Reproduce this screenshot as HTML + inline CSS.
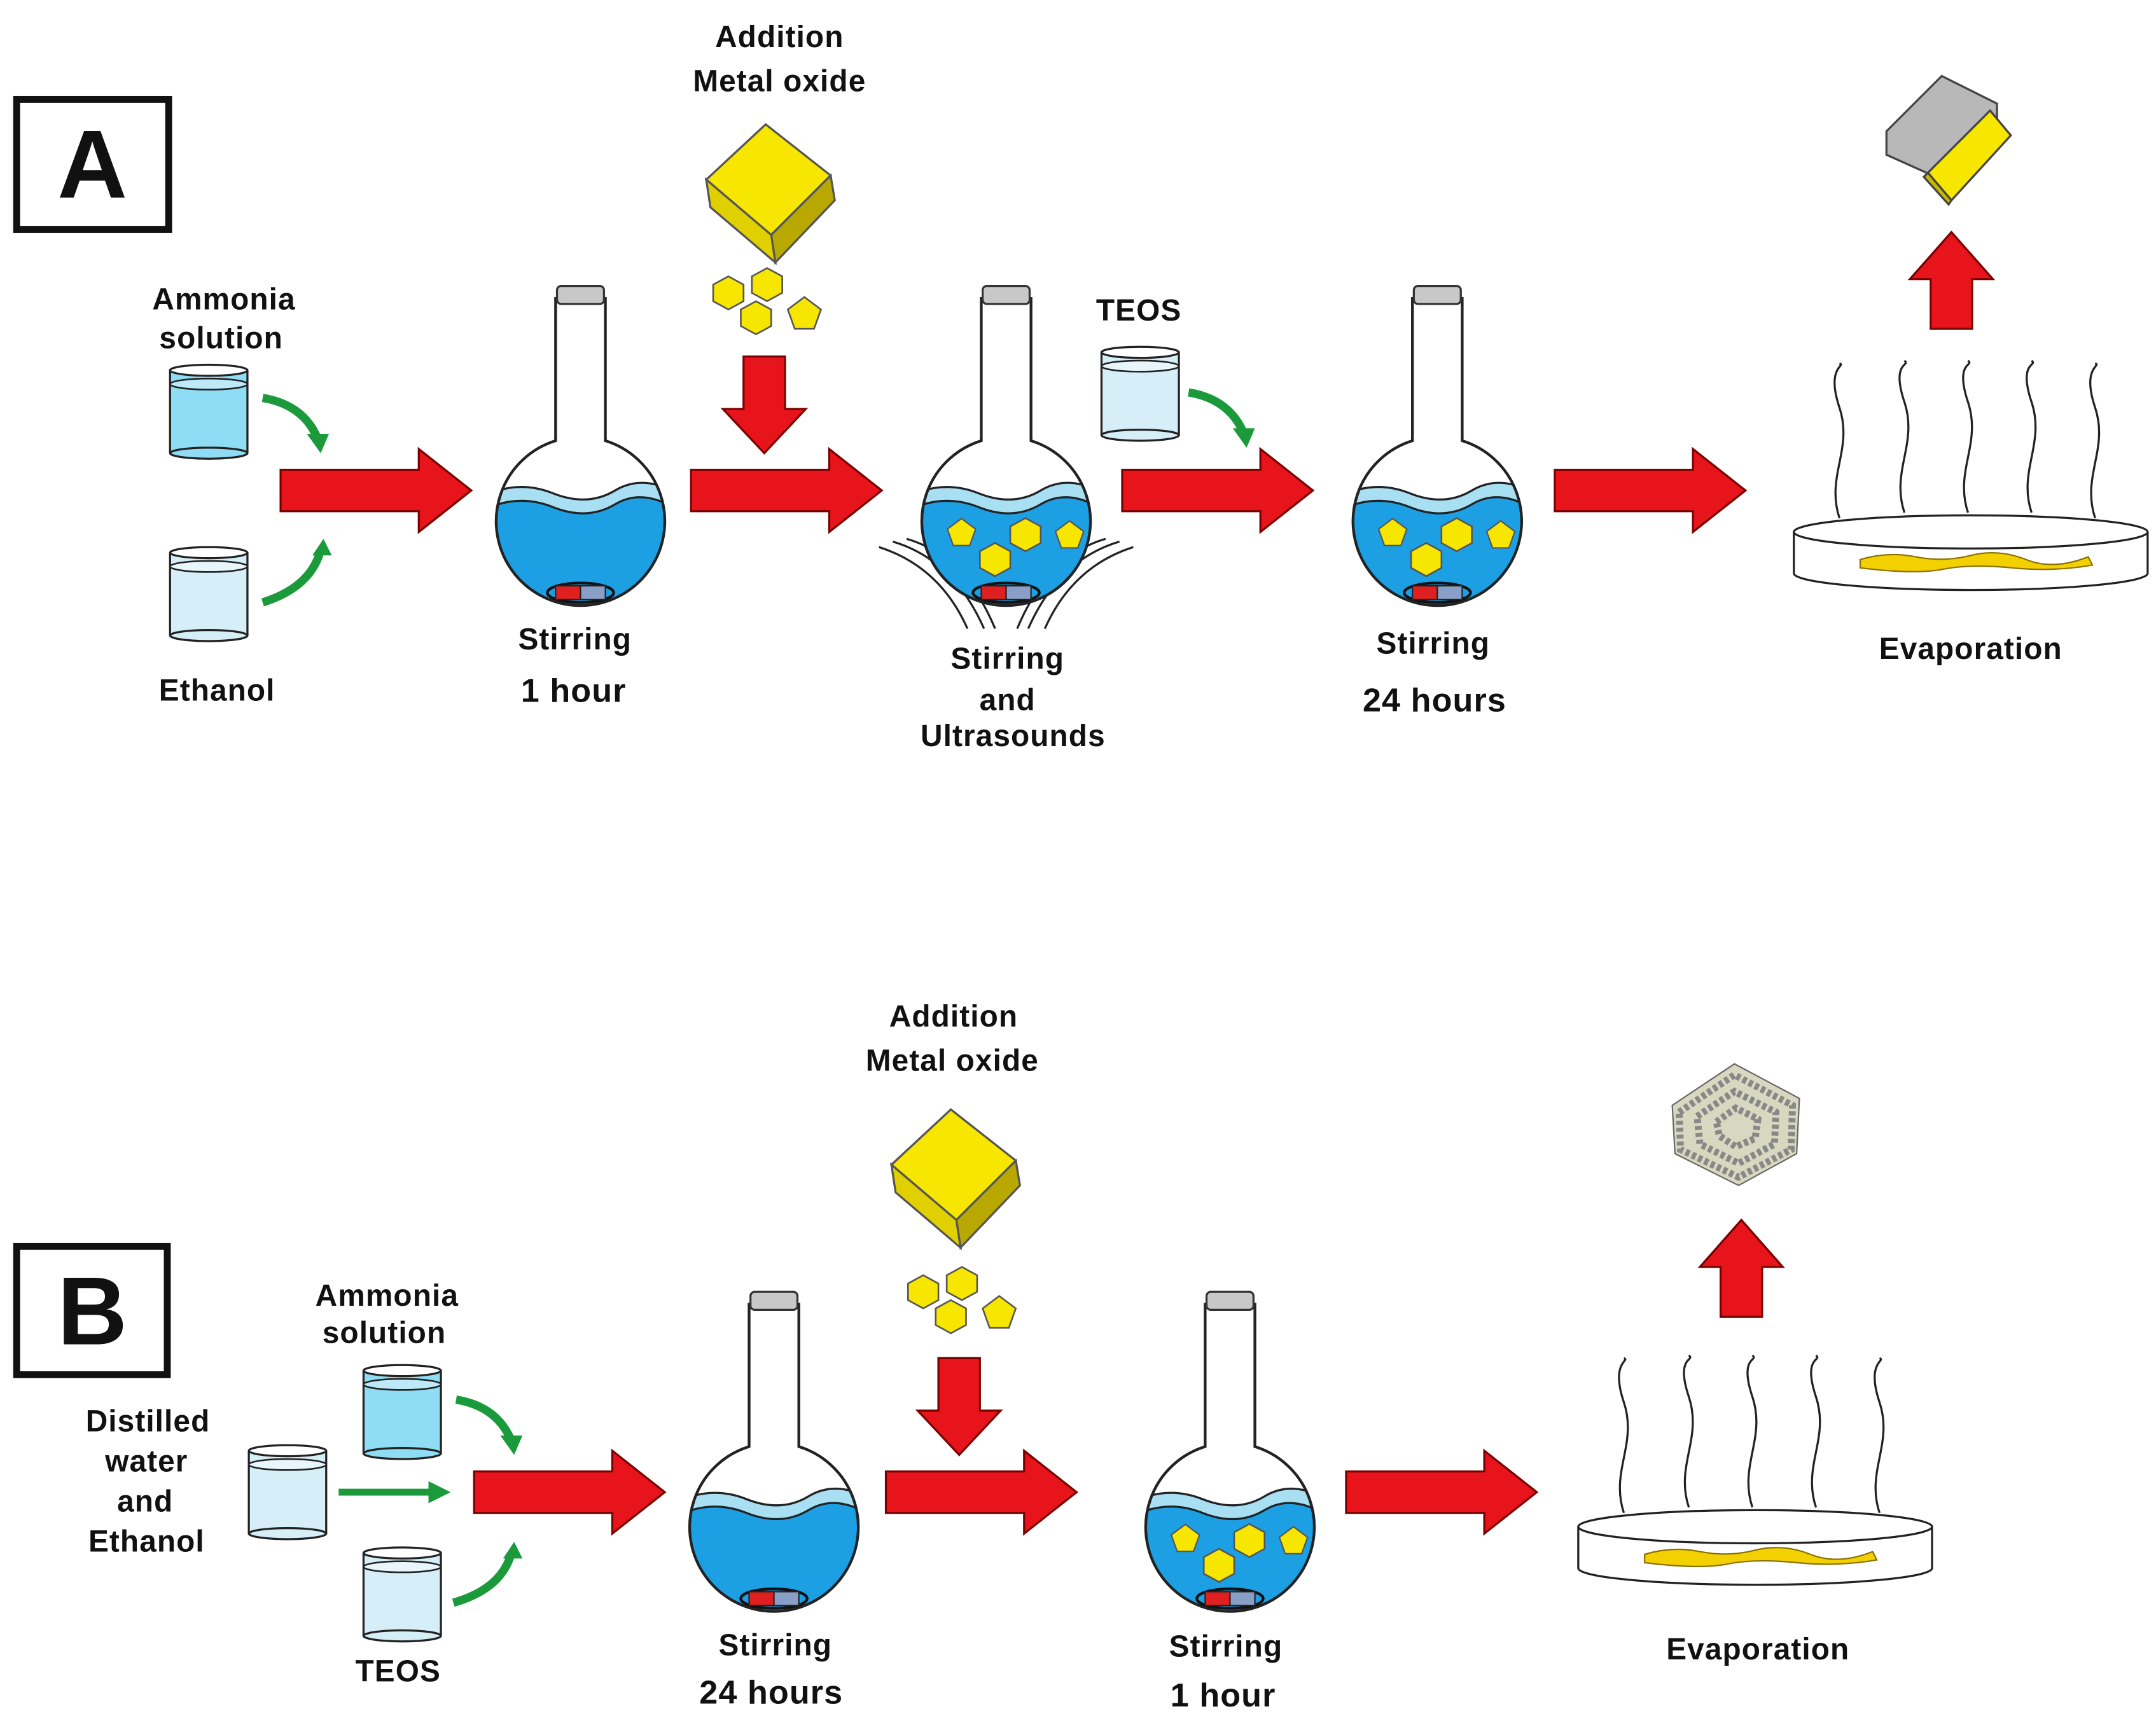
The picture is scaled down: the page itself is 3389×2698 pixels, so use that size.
<!DOCTYPE html>
<html><head><meta charset="utf-8"><style>
html,body{margin:0;padding:0;background:#fff;}
svg{display:block;}
text{font-family:"Liberation Sans",sans-serif;font-weight:bold;fill:#111;text-anchor:middle;letter-spacing:0.5px;}
</style></head><body>
<svg width="3389" height="2698" viewBox="0 0 1560 1242" xmlns="http://www.w3.org/2000/svg">
<defs>
  <clipPath id="bulb"><circle cx="0" cy="0" r="61"/></clipPath>
  <g id="flaskbase">
    <g clip-path="url(#bulb)">
      <path d="M-70 -18 Q-45 -30 -20 -20 T25 -22 T70 -20 V80 H-70Z" fill="#a8dff3"/>
      <path d="M-70 -8 Q-45 -20 -20 -10 T25 -12 T70 -8 V80 H-70Z" fill="#1c9fe3"/>
      <path d="M-70 -18 Q-45 -30 -20 -20 T25 -22 T70 -20" fill="none" stroke="#222" stroke-width="1.5"/>
      <path d="M-70 -8 Q-45 -20 -20 -10 T25 -12 T70 -8" fill="none" stroke="#222" stroke-width="1.5"/>
    </g>
    <path d="M-18 -162 L-18 -58 A61 61 0 1 0 18 -58 L18 -162" fill="none" stroke="#222" stroke-width="2"/>
    <rect x="-17" y="-170" width="34" height="13" rx="3" fill="#c8c8c8" stroke="#333" stroke-width="1.5"/>
    <ellipse cx="0" cy="52" rx="24" ry="7" fill="none" stroke="#111" stroke-width="2"/>
    <rect x="-18" y="47" width="18" height="10" fill="#e02020" stroke="#222"/>
    <rect x="0" y="47" width="18" height="10" fill="#8a9fc8" stroke="#222"/>
  </g>
  <polygon id="hex" points="-11,-6 0,-12 11,-6 11,6 0,12 -11,6" fill="#f7e600" stroke="#555" stroke-width="1.2"/>
  <polygon id="pent" points="0,-12 12,-3 7,11 -7,11 -12,-3" fill="#f7e600" stroke="#555" stroke-width="1.2"/>
  <g id="flaskP">
    <use href="#flaskbase"/>
    <use href="#pent" x="-38" y="10" transform="scale(.85)"/>
    <use href="#hex" x="14" y="10"/>
    <use href="#hex" x="-8" y="28"/>
    <use href="#pent" x="54" y="12" transform="scale(.85)"/>
  </g>
  <g id="cube">
    <polygon points="-45,-5 -2,-45 45,-8 2,35" fill="#f7e600" stroke="#555" stroke-width="1.5"/>
    <polygon points="2,35 45,-8 48,10 5,55" fill="#b8a800" stroke="#555" stroke-width="1.5"/>
    <polygon points="-45,-5 2,35 5,55 -42,15" fill="#e0d000" stroke="#555" stroke-width="1.5"/>
  </g>
  <g id="hexgroup">
    <use href="#hex" x="-28" y="-10"/>
    <use href="#hex" x="0" y="-16"/>
    <use href="#hex" x="-8" y="8"/>
    <use href="#pent" x="27" y="5"/>
  </g>
  <g id="rarrow"><polygon points="0,-15 100,-15 100,-30 138,0 100,30 100,15 0,15" fill="#e8141c" stroke="#7a0000" stroke-width="1.5"/></g>
  <g id="darrow"><polygon points="-15,0 15,0 15,38 30,38 0,70 -30,38 -15,38" fill="#e8141c" stroke="#7a0000" stroke-width="1.5"/></g>
  <g id="uarrow"><polygon points="-15,70 15,70 15,34 30,34 0,0 -30,34 -15,34" fill="#e8141c" stroke="#7a0000" stroke-width="1.5"/></g>
  <g id="beakerB">
    <rect x="0" y="0" width="56" height="60" fill="#8fdcf5"/>
    <path d="M0 0 V60 M56 0 V60" stroke="#222" stroke-width="1.5"/>
    <ellipse cx="28" cy="60" rx="28" ry="4" fill="#8fdcf5" stroke="#222" stroke-width="1.5"/>
    <ellipse cx="28" cy="0" rx="28" ry="4" fill="#fff" stroke="#222" stroke-width="1.5"/>
    <ellipse cx="28" cy="10" rx="28" ry="4" fill="#bde9f8" stroke="#222" stroke-width="1.2"/>
  </g>
  <g id="beakerP">
    <rect x="0" y="0" width="56" height="60" fill="#d6eef8"/>
    <path d="M0 0 V60 M56 0 V60" stroke="#222" stroke-width="1.5"/>
    <ellipse cx="28" cy="60" rx="28" ry="4" fill="#d6eef8" stroke="#222" stroke-width="1.5"/>
    <ellipse cx="28" cy="0" rx="28" ry="4" fill="#fff" stroke="#222" stroke-width="1.5"/>
    <ellipse cx="28" cy="10" rx="28" ry="4" fill="#e8f6fb" stroke="#222" stroke-width="1.2"/>
  </g>
  <g id="dish">
    <path d="M-128 0 V30 A128 12 0 0 0 128 30 V0" fill="#fff" stroke="#222" stroke-width="1.5"/>
    <ellipse cx="0" cy="0" rx="128" ry="12" fill="#fff" stroke="#222" stroke-width="1.5"/>
    <path d="M-80 20 Q-60 14 -40 18 T0 17 T40 20 T85 18 L88 24 Q60 29 30 26 T-20 27 T-80 26Z" fill="#f3d000" stroke="#8a7000" stroke-width="1"/>
    <g fill="none" stroke="#222" stroke-width="1.5">
      <path d="M-95 -10 C-105 -40 -85 -60 -95 -90 S-90 -120 -95 -122"/>
      <path d="M-48 -14 C-58 -44 -38 -64 -48 -94 S-43 -120 -48 -124"/>
      <path d="M-2 -14 C-12 -44 8 -64 -2 -94 S3 -120 -2 -124"/>
      <path d="M44 -14 C34 -44 54 -64 44 -94 S49 -120 44 -124"/>
      <path d="M90 -10 C80 -40 100 -60 90 -90 S95 -120 90 -122"/>
    </g>
  </g>
  <g id="garrow"><path d="M0 0 Q30 5 40 30" fill="none" stroke="#1a9a3a" stroke-width="6"/><polygon points="32,26 48,26 42,40" fill="#1a9a3a"/></g>
</defs>

<!-- Section A -->
<rect x="12" y="72" width="110" height="94" fill="#fff" stroke="#111" stroke-width="5"/>
<text x="67" y="143" style="font-size:70px">A</text>

<text x="162" y="224" style="font-size:22px">Ammonia</text>
<text x="160" y="252" style="font-size:22px">solution</text>
<use href="#beakerB" x="123" y="268"/>
<use href="#beakerP" x="123" y="400"/>
<text x="157" y="507" style="font-size:22px">Ethanol</text>
<use href="#garrow" x="190" y="288"/>
<path d="M190 436 Q225 425 232 398" fill="none" stroke="#1a9a3a" stroke-width="6"/><polygon points="226,402 240,402 234,390" fill="#1a9a3a"/>

<use href="#rarrow" x="203" y="355"/>
<use href="#flaskbase" x="420" y="377"/>
<text x="416" y="470" style="font-size:22px">Stirring</text>
<text x="415" y="508" style="font-size:24px">1 hour</text>

<text x="564" y="34" style="font-size:22px">Addition</text>
<text x="564" y="66" style="font-size:22px">Metal oxide</text>
<use href="#cube" x="556" y="135"/>
<use href="#hexgroup" x="555" y="222"/>
<use href="#darrow" x="553" y="258"/>
<use href="#rarrow" x="500" y="355"/>

<g fill="none" stroke="#222" stroke-width="1.5">
  <path d="M636 396 Q680 410 700 455"/><path d="M646 392 Q690 405 712 455"/><path d="M656 390 Q698 402 720 455"/>
  <path d="M820 396 Q776 410 756 455"/><path d="M810 392 Q766 405 744 455"/><path d="M800 390 Q758 402 736 455"/>
</g>
<use href="#flaskP" x="728" y="377"/>
<text x="729" y="484" style="font-size:22px">Stirring</text>
<text x="729" y="514" style="font-size:22px">and</text>
<text x="733" y="540" style="font-size:22px">Ultrasounds</text>

<text x="824" y="232" style="font-size:22px">TEOS</text>
<use href="#beakerP" x="797" y="255"/>
<use href="#garrow" x="860" y="284"/>
<use href="#rarrow" x="812" y="355"/>
<use href="#flaskP" x="1040" y="377"/>
<text x="1037" y="473" style="font-size:22px">Stirring</text>
<text x="1038" y="515" style="font-size:24px">24 hours</text>

<use href="#rarrow" x="1125" y="355"/>
<use href="#dish" x="1426" y="385"/>
<text x="1426" y="477" style="font-size:22px">Evaporation</text>
<use href="#uarrow" x="1412" y="168"/>
<g stroke="#444" stroke-width="1.5">
  <polygon points="1365,95 1405,55 1445,75 1445,90 1405,130 1365,112" fill="#b8b8b8"/>
  <polygon points="1395,125 1440,80 1455,98 1412,145" fill="#f7e600"/>
  <polygon points="1395,125 1412,145 1410,148 1392,128" fill="#c8b800"/>
</g>

<!-- Section B -->
<rect x="12" y="902" width="109" height="93" fill="#fff" stroke="#111" stroke-width="5"/>
<text x="67" y="973" style="font-size:70px">B</text>

<text x="280" y="945" style="font-size:22px">Ammonia</text>
<text x="278" y="972" style="font-size:22px">solution</text>
<use href="#beakerB" x="263" y="992"/>
<use href="#beakerP" x="180" y="1050"/>
<use href="#beakerP" x="263" y="1124"/>
<text x="107" y="1036" style="font-size:22px">Distilled</text>
<text x="106" y="1065" style="font-size:22px">water</text>
<text x="105" y="1094" style="font-size:22px">and</text>
<text x="106" y="1123" style="font-size:22px">Ethanol</text>
<text x="288" y="1217" style="font-size:22px">TEOS</text>
<use href="#garrow" x="330" y="1013"/>
<line x1="245" y1="1080" x2="312" y2="1080" stroke="#1a9a3a" stroke-width="5"/><polygon points="310,1072 326,1080 310,1088" fill="#1a9a3a"/>
<path d="M328 1160 Q363 1150 370 1124" fill="none" stroke="#1a9a3a" stroke-width="6"/><polygon points="364,1128 378,1128 372,1116" fill="#1a9a3a"/>

<use href="#rarrow" x="343" y="1080"/>
<use href="#flaskbase" x="560" y="1105"/>
<text x="561" y="1198" style="font-size:22px">Stirring</text>
<text x="558" y="1233" style="font-size:24px">24 hours</text>

<text x="690" y="743" style="font-size:22px">Addition</text>
<text x="689" y="775" style="font-size:22px">Metal oxide</text>
<use href="#cube" x="690" y="848"/>
<use href="#hexgroup" x="696" y="945"/>
<use href="#darrow" x="694" y="983"/>
<use href="#rarrow" x="641" y="1080"/>
<use href="#flaskP" x="890" y="1105"/>
<text x="887" y="1199" style="font-size:22px">Stirring</text>
<text x="885" y="1235" style="font-size:24px">1 hour</text>

<use href="#rarrow" x="974" y="1080"/>
<use href="#dish" x="1270" y="1105"/>
<text x="1272" y="1201" style="font-size:22px">Evaporation</text>
<use href="#uarrow" x="1260" y="883"/>
<g fill="#ddd" stroke="#666" stroke-width="1">
  <polygon points="1210,800 1255,770 1302,795 1300,835 1258,858 1212,835" fill="#d8d8c0"/>
  <g fill="none" stroke="#888" stroke-width="5" stroke-dasharray="3 2">
    <path d="M1215 805 L1255 778 L1297 800 L1296 832 L1258 852 L1216 832Z"/>
    <path d="M1228 808 L1255 790 L1285 805 L1284 828 L1258 842 L1230 828Z"/>
    <path d="M1242 812 L1256 802 L1272 810 L1270 824 L1256 830 L1244 822Z"/>
  </g>
</g>
</svg>
</body></html>
